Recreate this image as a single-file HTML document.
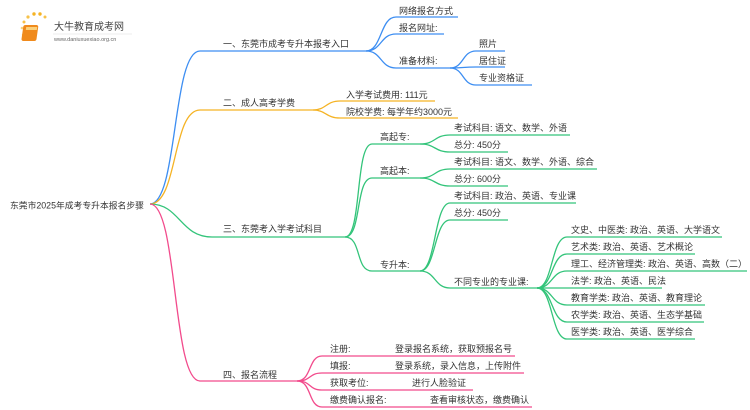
<!DOCTYPE html>
<html><head><meta charset="utf-8"><style>
html,body{margin:0;padding:0;background:#fff;width:750px;height:410px;overflow:hidden}
svg{display:block}
text{font-family:"Liberation Sans","Noto Sans CJK SC",sans-serif;font-size:9px;fill:#333}
.b{stroke:#3d8ef2}.o{stroke:#f5b324}.g{stroke:#33c47a}.p{stroke:#f24b8c}
path{fill:none;stroke-width:1.3}
</style></head><body>
<svg width="750" height="410" viewBox="0 0 750 410">
<!-- logo -->
<g>
<circle cx="24" cy="22" r="1.5" fill="#f7c24a"/><circle cx="28" cy="17" r="1.6" fill="#f7c24a"/><circle cx="34" cy="14" r="1.7" fill="#f5b324"/><circle cx="40" cy="14" r="1.7" fill="#f5b324"/><circle cx="45" cy="17" r="1.5" fill="#f7c24a"/><circle cx="22" cy="28" r="1.3" fill="#f7d27a"/><circle cx="23" cy="35" r="1.2" fill="#f7d27a"/>
<rect x="27" y="25" width="15" height="16" rx="2" fill="#f08a1c" transform="skewX(-8)"/>
<rect x="30" y="27" width="11" height="3" fill="#fbd07a" transform="skewX(-8)"/>
<text x="54" y="30" style="font-size:10px;fill:#444">大牛教育成考网</text>
<line x1="53" y1="34" x2="132" y2="34" stroke="#ddd" stroke-width="0.6"/>
<text x="54" y="41" style="font-size:5.5px;fill:#666">www.daniuxuexiao.org.cn</text>
</g>
<text x="10" y="208.5" style="font-size:8.8px">东莞市2025年成考专升本报名步骤</text>
<!-- level 1 -->
<path class="b" d="M150 204 C178 204,172 51,200 51 L366 51"/>
<path class="o" d="M150 204 C178 204,172 110,200 110 L313 110"/>
<path class="g" d="M150 204 C180 204,180 237,212 237 L345 237"/>
<path class="p" d="M150 204 C178 204,172 381,200 381 L297 381"/>
<text x="223" y="47">一、东莞市成考专升本报考入口</text>
<text x="223" y="106">二、成人高考学费</text>
<text x="223" y="232">三、东莞考入学考试科目</text>
<text x="223" y="378">四、报名流程</text>
<!-- branch 1 -->
<path class="b" d="M366 51 C382 51,380 17,396 17 L458 17"/>
<path class="b" d="M366 51 C382 51,380 34,396 34 L444 34"/>
<path class="b" d="M366 51 C382 51,380 68,396 68 L450 68"/>
<text x="399" y="14">网络报名方式</text>
<text x="399" y="31">报名网址:</text>
<text x="399" y="64">准备材料:</text>
<path class="b" d="M450 68 C464 68,462 51,476 51 L505 51"/>
<path class="b" d="M450 68 C464 68,462 67,476 67 L505 67"/>
<path class="b" d="M450 68 C464 68,462 85,476 85 L532 85"/>
<text x="479" y="47">照片</text>
<text x="479" y="64">居住证</text>
<text x="479" y="81">专业资格证</text>
<!-- branch 2 -->
<path class="o" d="M313 110 C326 110,326 101,340 101 L435 101"/>
<path class="o" d="M313 110 C326 110,326 118,340 118 L458 118"/>
<text x="346" y="98">入学考试费用: 111元</text>
<text x="346" y="115">院校学费: 每学年约3000元</text>
<!-- branch 3 -->
<path class="g" d="M345 237 C362 237,355 144,372 144 L420 144"/>
<path class="g" d="M345 237 C362 237,355 178,372 178 L420 178"/>
<path class="g" d="M345 237 C362 237,355 271,372 271 L420 271"/>
<text x="380" y="140">高起专:</text>
<text x="380" y="174">高起本:</text>
<text x="380" y="268">专升本:</text>
<path class="g" d="M420 144 C436 144,434 135,450 135 L570 135"/>
<path class="g" d="M420 144 C436 144,434 152,450 152 L508 152"/>
<text x="454" y="131">考试科目: 语文、数学、外语</text>
<text x="454" y="148">总分: 450分</text>
<path class="g" d="M420 178 C436 178,434 169,450 169 L597 169"/>
<path class="g" d="M420 178 C436 178,434 186,450 186 L508 186"/>
<text x="454" y="165">考试科目: 语文、数学、外语、综合</text>
<text x="454" y="182">总分: 600分</text>
<path class="g" d="M420 271 C436 271,434 203,450 203 L576 203"/>
<path class="g" d="M420 271 C436 271,434 220,450 220 L508 220"/>
<path class="g" d="M420 271 C436 271,434 288,450 288 L537 288"/>
<text x="454" y="199">考试科目: 政治、英语、专业课</text>
<text x="454" y="216">总分: 450分</text>
<text x="454" y="285">不同专业的专业课:</text>
<path class="g" d="M537 288 C553 288,551 237,567 237 L722 237"/>
<path class="g" d="M537 288 C553 288,551 254,567 254 L695 254"/>
<path class="g" d="M537 288 C553 288,551 271,567 271 L747 271"/>
<path class="g" d="M537 288 C553 288,551 288,567 288 L662 288"/>
<path class="g" d="M537 288 C553 288,551 305,567 305 L705 305"/>
<path class="g" d="M537 288 C553 288,551 322,567 322 L704 322"/>
<path class="g" d="M537 288 C553 288,551 339,567 339 L695 339"/>
<text x="571" y="233">文史、中医类: 政治、英语、大学语文</text>
<text x="571" y="250">艺术类: 政治、英语、艺术概论</text>
<text x="571" y="267">理工、经济管理类: 政治、英语、高数（二）</text>
<text x="571" y="284">法学: 政治、英语、民法</text>
<text x="571" y="301">教育学类: 政治、英语、教育理论</text>
<text x="571" y="318">农学类: 政治、英语、生态学基础</text>
<text x="571" y="335">医学类: 政治、英语、医学综合</text>
<!-- branch 4 -->
<path class="p" d="M297 381 C312 381,308 356,322 356 L515 356"/>
<path class="p" d="M297 381 C312 381,308 373,322 373 L524 373"/>
<path class="p" d="M297 381 C312 381,308 390,322 390 L473 390"/>
<path class="p" d="M297 381 C312 381,308 407,322 407 L532 407"/>
<text x="330" y="352">注册:</text><text x="395" y="352">登录报名系统，获取预报名号</text>
<text x="330" y="369">填报:</text><text x="395" y="369">登录系统，录入信息，上传附件</text>
<text x="330" y="386">获取考位:</text><text x="412" y="386">进行人脸验证</text>
<text x="330" y="403">缴费确认报名:</text><text x="430" y="403">查看审核状态，缴费确认</text>
</svg>
</body></html>
